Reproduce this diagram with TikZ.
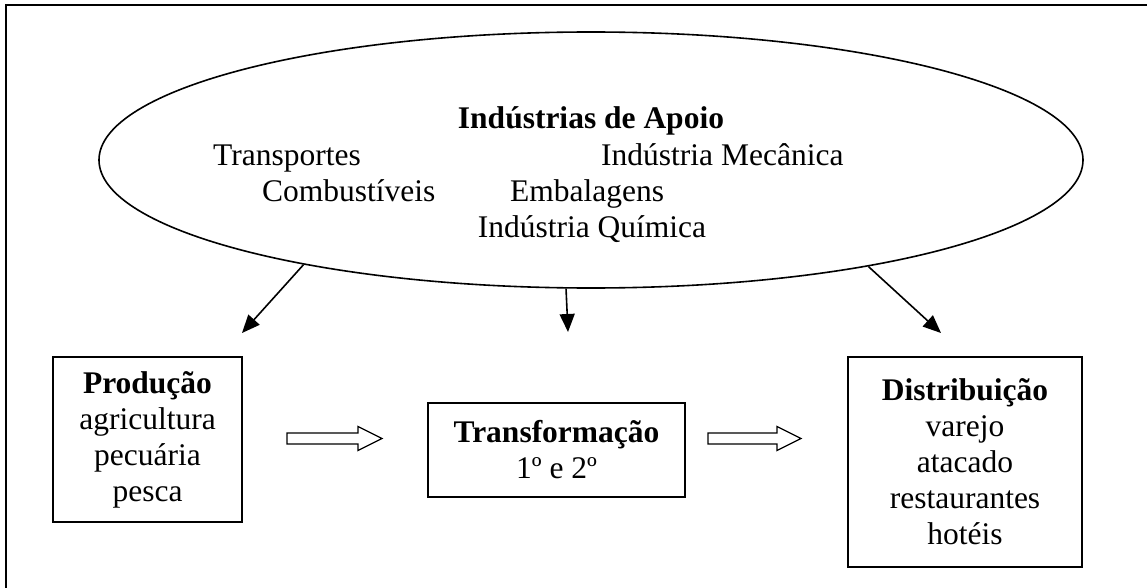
\documentclass[tikz,border=0pt]{standalone}
\usepackage{fontspec}
\setmainfont{Liberation Serif}
\usetikzlibrary{shapes.geometric,arrows.meta,calc}
\begin{document}
\begin{tikzpicture}[x=1pt,y=-1pt,
  txt/.style={font=\fontsize{31.5}{36}\selectfont, inner sep=0pt},
  boxn/.style={draw, line width=1.6pt, align=center, inner sep=0pt,
    font=\fontsize{31.5}{36}\selectfont},
  conn/.style={line width=1.6pt, -{Triangle[length=18pt,width=15pt]}},
  hollow/.style={draw, line width=1.3pt, line join=miter},
  frame/.style={line width=2pt}]
\useasboundingbox (0,0) rectangle (1147,588);
\draw[frame] (6,588) -- (6,5) -- (1147,5);
% ellipse
\node[draw, ellipse, line width=1.6pt, minimum width=984, minimum height=256, inner sep=0pt] (sup) at (591,160) {};
\node[txt, anchor=base, font=\fontsize{31.5}{36}\selectfont\bfseries] (title) at (591,129) {Indústrias de Apoio};
\node[txt, anchor=base west] (t1) at (213,165) {Transportes};
\node[txt, anchor=base west] (t2) at (601,165) {Indústria Mecânica};
\node[txt, anchor=base west] (t3) at (262,201) {Combustíveis};
\node[txt, anchor=base west] (t4) at (510,201) {Embalagens};
\node[txt, anchor=base] (t5) at (592,237) {Indústria Química};
% boxes
\node[boxn, minimum width=189, minimum height=165] (prod) at (147.5,439.5)
  {\textbf{Produção}\\agricultura\\pecuária\\pesca};
\node[boxn, minimum width=257, minimum height=94] (trans) at (556.5,450)
  {\textbf{Transformação}\\1º e 2º};
\node[boxn, minimum width=234, minimum height=210] (dist) at (965,462)
  {\textbf{Distribuição}\\varejo\\atacado\\restaurantes\\hotéis};
% arrows from ellipse
\coordinate (tipL) at (242,333);
\coordinate (tipM) at (568,332);
\coordinate (tipR) at (941,333);
\draw[conn] (sup.200.5) -- (tipL);
\draw[conn] (sup.259.8) -- (tipM);
\draw[conn] (sup.339.6) -- (tipR);
% hollow arrows
\coordinate (h1s) at (287,438.5); \coordinate (h1e) at (382,438.5);
\coordinate (h2s) at (708,438.5); \coordinate (h2e) at (801,438.5);
\draw[hollow] ($(h1s)+(0,-5.5)$) -- ($(h1e)+(-24,-5.5)$) -- ($(h1e)+(-24,-12)$) -- (h1e)
  -- ($(h1e)+(-24,12)$) -- ($(h1e)+(-24,5.5)$) -- ($(h1s)+(0,5.5)$) -- cycle;
\draw[hollow] ($(h2s)+(0,-5.5)$) -- ($(h2e)+(-24,-5.5)$) -- ($(h2e)+(-24,-12)$) -- (h2e)
  -- ($(h2e)+(-24,12)$) -- ($(h2e)+(-24,5.5)$) -- ($(h2s)+(0,5.5)$) -- cycle;
\end{tikzpicture}
\end{document}
